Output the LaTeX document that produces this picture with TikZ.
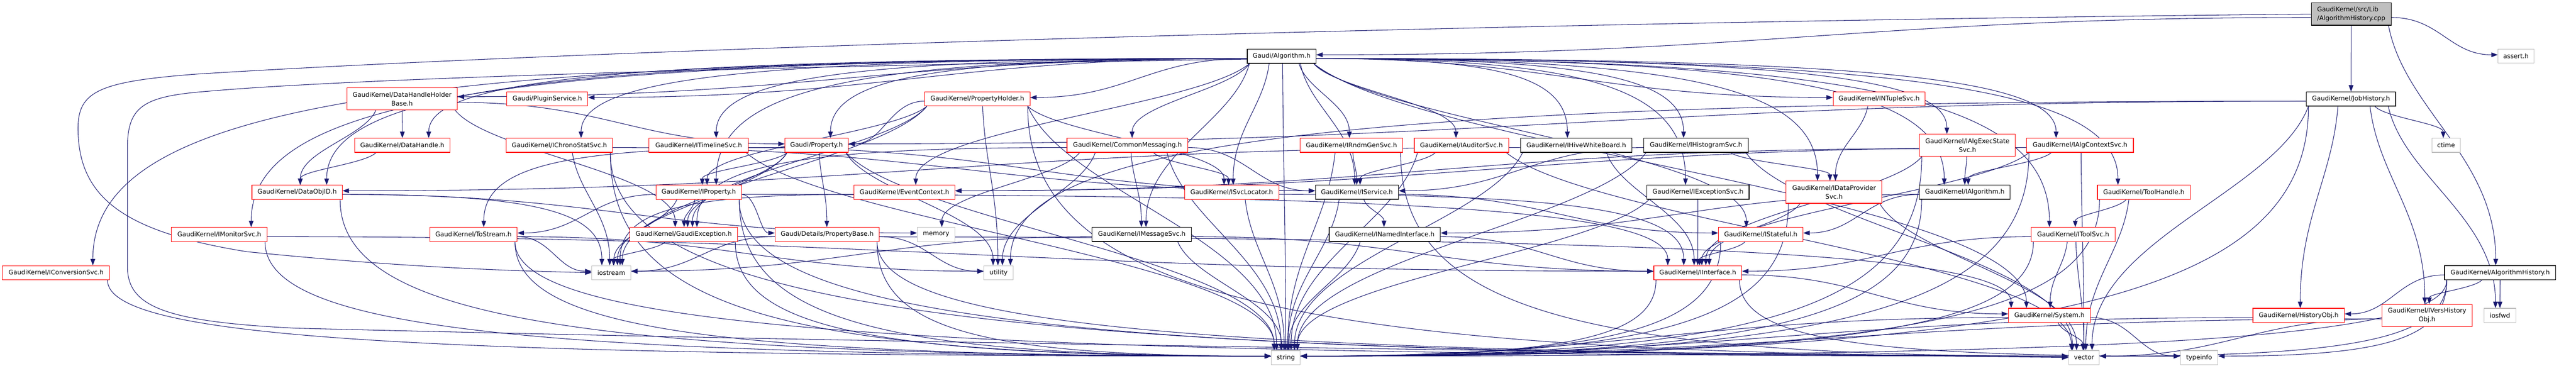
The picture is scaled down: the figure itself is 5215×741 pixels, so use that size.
\documentclass[tikz,border=0pt]{standalone}
\usepackage{fontspec}
\setmainfont{DejaVu Sans}
\usetikzlibrary{arrows.meta,calc}
\definecolor{edgec}{RGB}{25,25,112}
\definecolor{grayb}{RGB}{191,191,191}
\pgfdeclarelayer{back}\pgfdeclarelayer{edges}
\pgfsetlayers{back,edges,main}
\tikzset{
 box/.style={draw, rectangle, inner sep=0pt, minimum height=28.5pt, fill=white, line width=1.1pt, font=\fontsize{12.8}{17.5}\selectfont, text=black},
 redbox/.style={box, draw=red},
 blkbox/.style={box, draw=black, line width=1.3pt},
 grybox/.style={box, draw=grayb},
 srcbox/.style={box, draw=black, fill=grayb, line width=1.3pt, minimum height=45pt, align=left},
 two/.style={minimum height=45pt, align=center},
 dep/.style={draw=edgec, line width=1.1pt, -{Triangle[length=13pt,width=9.5pt]}},
}
\newcommand\N[6]{%
 \pgfmathsetmacro\nw{#3-#2}\pgfmathsetmacro\nx{(#2+#3)/2}%
 \node[#5, minimum width=\nw pt] (#1) at (\nx,#4) {#6};}
\newcommand\E[2]{%
\draw[dep] let \p1=(#1.center), \p2=(#2.center), \p3=(#1.north east), \p4=(#2.north east),
 \n{dx}={\x2-\x1}, \n{dy}={\y1-\y2}, \n{wa}={\x3-\x1}, \n{ha}={\y3-\y1},
 \n{wb}={\x4-\x2}, \n{hb}={\y4-\y2}, \n{sg}={\x2>\x1 ? 1 : -1},
 \n{sh}={abs(\n{dx})>3*\n{dy} ? 1 : 0},
 \n{ds}={(\n{sh}>0.5) && ((\n{dy}<120) || (\y2>-700)) ? 1 : 0},
 \n{as}={(\n{sh}>0.5) && ((\n{dy}<120) || (\y2<-700)) ? 1 : 0},
 \n{xs}={\n{ds}>0.5 ? \x1+(\n{sg})*(\n{wa}) : \x1+max(5-\n{wa},min(\n{wa}-5,0.25*\n{dx}))},
 \n{ys}={\n{ds}>0.5 ? \y1-0.3*\n{ha} : \y1-\n{ha}},
 \n{xt}={\n{as}>0.5 ? \x2-(\n{sg})*(\n{wb}) : \x2+max(6-\n{wb},min(\n{wb}-6,-0.03*\n{dx}))},
 \n{yt}={\n{as}>0.5 ? \y2+0.2*\n{hb} : \y2+\n{hb}},
 \n{ka}={\n{ds}>0.5 ? (\n{as}>0.5 ? 0.45 : 0.75) : (\n{as}>0.5 ? 0 : 0.15)},
 \n{kb}={\n{ds}>0.5 ? 0 : (\n{as}>0.5 ? 0.75 : 0.35)},
 \n{kc}={\n{as}>0.5 ? (\n{ds}>0.5 ? 0.45 : 0.75) : 0},
 \n{kd}={\n{as}>0.5 ? 0 : (\n{ds}>0.5 ? 0.75 : 0.45)},
 \n{ax}={\n{xs}+\n{ka}*(\n{xt}-\n{xs})},
 \n{ay}={\n{ys}-\n{kb}*(\n{ys}-\n{yt})},
 \n{bx}={\n{xt}-\n{kc}*(\n{xt}-\n{xs})},
 \n{by}={\n{yt}+\n{kd}*(\n{ys}-\n{yt})}
 in (\n{xs},\n{ys}) .. controls (\n{ax},\n{ay}) and (\n{bx},\n{by}) .. (\n{xt},\n{yt});}
\begin{document}
\begin{tikzpicture}[x=1pt,y=-1pt]
\begin{pgfonlayer}{back}
\fill[white] (0,0) rectangle (5215,741);
\end{pgfonlayer}
\useasboundingbox (0,0) rectangle (5215,741);
% nodes
\N{cpp}{4679}{4841}{28.5}{srcbox}{GaudiKernel/src/Lib\\/AlgorithmHistory.cpp}
\N{alg}{2525}{2664}{114}{blkbox}{Gaudi/Algorithm.h}
\N{assert}{5057}{5130}{114}{grybox}{assert.h}
\N{dhhb}{702}{926}{200.5}{redbox,two}{GaudiKernel/DataHandleHolder\\Base.h}
\N{plugin}{1026}{1190}{200.5}{redbox}{Gaudi/PluginService.h}
\N{propholder}{1872}{2085}{200.5}{redbox}{GaudiKernel/PropertyHolder.h}
\N{ntuple}{3711}{3897}{200.5}{redbox}{GaudiKernel/INTupleSvc.h}
\N{jobhist}{4669}{4850}{200.5}{blkbox}{GaudiKernel/JobHistory.h}
\N{datahandle}{718}{911}{294.5}{redbox}{GaudiKernel/DataHandle.h}
\N{chrono}{1025}{1240}{294.5}{redbox}{GaudiKernel/IChronoStatSvc.h}
\N{timeline}{1314}{1515}{294.5}{redbox}{GaudiKernel/ITimelineSvc.h}
\N{property}{1589}{1717}{294.5}{redbox}{Gaudi/Property.h}
\N{commsg}{2160}{2405}{294.5}{redbox}{GaudiKernel/CommonMessaging.h}
\N{rndm}{2632}{2840}{294.5}{redbox}{GaudiKernel/IRndmGenSvc.h}
\N{auditor}{2863}{3054}{294.5}{redbox}{GaudiKernel/IAuditorSvc.h}
\N{hive}{3078}{3304}{294.5}{blkbox}{GaudiKernel/IHiveWhiteBoard.h}
\N{histo}{3328}{3539}{294.5}{blkbox}{GaudiKernel/IHistogramSvc.h}
\N{execstate}{3886}{4080}{294.5}{redbox,two}{GaudiKernel/IAlgExecState\\Svc.h}
\N{algctx}{4103}{4319}{294.5}{redbox}{GaudiKernel/IAlgContextSvc.h}
\N{ctime}{4923}{4981}{294.5}{grybox}{ctime}
\N{dataobjid}{510}{693}{389.5}{redbox}{GaudiKernel/DataObjID.h}
\N{iproperty}{1328}{1501}{389.5}{redbox}{GaudiKernel/IProperty.h}
\N{evctx}{1729}{1933}{389.5}{redbox}{GaudiKernel/EventContext.h}
\N{svcloc}{2398}{2589}{389.5}{redbox}{GaudiKernel/ISvcLocator.h}
\N{iservice}{2663}{2831}{389.5}{blkbox}{GaudiKernel/IService.h}
\N{excsvc}{3334}{3541}{389.5}{blkbox}{GaudiKernel/IExceptionSvc.h}
\N{dataprov}{3616}{3810}{389.5}{redbox,two}{GaudiKernel/IDataProvider\\Svc.h}
\N{ialg}{3886}{4069}{389.5}{blkbox}{GaudiKernel/IAlgorithm.h}
\N{toolhandle}{4246}{4434}{389.5}{redbox}{GaudiKernel/ToolHandle.h}
\N{monitor}{347}{541}{475}{redbox}{GaudiKernel/IMonitorSvc.h}
\N{tostream}{870}{1047}{475}{redbox}{GaudiKernel/ToStream.h}
\N{gexc}{1275}{1493}{475}{redbox}{GaudiKernel/GaudiException.h}
\N{propbase}{1569}{1780}{475}{redbox}{Gaudi/Details/PropertyBase.h}
\N{memory}{1857}{1933}{475}{grybox}{memory}
\N{msgsvc}{2211}{2412}{475}{blkbox}{GaudiKernel/IMessageSvc.h}
\N{named}{2691}{2916}{475}{blkbox}{GaudiKernel/INamedInterface.h}
\N{stateful}{3479}{3650}{475}{redbox}{GaudiKernel/IStateful.h}
\N{toolsvc}{4112}{4282}{475}{redbox}{GaudiKernel/IToolSvc.h}
\N{convsvc}{5}{222}{552.5}{redbox}{GaudiKernel/IConversionSvc.h}
\N{iostream}{1198}{1277}{552.5}{grybox}{iostream}
\N{utility}{1992}{2051}{552.5}{grybox}{utility}
\N{iinterface}{3348}{3526}{552.5}{redbox}{GaudiKernel/IInterface.h}
\N{alghist}{4949}{5174}{552.5}{blkbox}{GaudiKernel/AlgorithmHistory.h}
\N{system}{4066}{4232}{639}{redbox}{GaudiKernel/System.h}
\N{histobj}{4561}{4746}{639}{redbox}{GaudiKernel/HistoryObj.h}
\N{vershist}{4822}{5005}{639}{redbox,two}{GaudiKernel/IVersHistory\\Obj.h}
\N{iosfwd}{5029}{5093}{639}{grybox}{iosfwd}
\N{string}{2574}{2632}{724.5}{grybox}{string}
\N{vector}{4188}{4250}{724.5}{grybox}{vector}
\N{typeinfo}{4414}{4490}{724.5}{grybox}{typeinfo}
% edges
\begin{pgfonlayer}{edges}
\E{cpp}{alg}\E{cpp}{jobhist}\E{cpp}{assert}\E{cpp}{alghist}
\draw[dep] (cpp.west) .. controls (3000,45) and (1200,100) .. (400,150) .. controls (200,165) and (158,185) .. (158,260) .. controls (158,400) and (250,470) .. (500,510) .. controls (800,540) and (1000,548) .. (iostream.west);
\draw[dep] ([yshift=-6pt]alg.west) .. controls (1500,135) and (700,160) .. (420,185) .. controls (290,195) and (258,215) .. (258,300) -- (258,540) .. controls (258,620) and (330,652) .. (600,665) .. controls (2000,700) and (3500,716) .. (vector.west);
\foreach \t in {dhhb,plugin,propholder,ntuple,datahandle,chrono,timeline,property,commsg,rndm,auditor,hive,histo,execstate,algctx,dataobjid,evctx,svcloc,iservice,excsvc,dataprov,ialg,toolhandle,monitor,msgsvc,stateful,toolsvc,convsvc,system,string,iproperty}{\E{alg}{\t}}
\foreach \t in {datahandle,dataobjid,property,gexc}{\E{dhhb}{\t}}
\E{datahandle}{dataobjid}
\foreach \t in {string,iostream,memory}{\E{dataobjid}{\t}}
\foreach \t in {iinterface,string}{\E{monitor}{\t}}
\E{convsvc}{string}
\foreach \t in {iservice,iostream,string,vector}{\E{chrono}{\t}}
\foreach \t in {iservice,string}{\E{timeline}{\t}}
\foreach \t in {iproperty,propbase,tostream,gexc,string,utility,iostream}{\E{property}{\t}}
\foreach \t in {property,iproperty,gexc,svcloc,iostream,string,utility,vector}{\E{propholder}{\t}}
\foreach \t in {tostream,gexc,propbase,iinterface,iostream,string,vector}{\E{iproperty}{\t}}
\foreach \t in {iostream,utility,string,typeinfo}{\E{propbase}{\t}}
\foreach \t in {iostream,string,vector,utility}{\E{tostream}{\t}}
\foreach \t in {iostream,string,system}{\E{gexc}{\t}}
\foreach \t in {msgsvc,svcloc,iservice,gexc,memory,utility,string}{\E{commsg}{\t}}
\foreach \t in {iservice,string,vector}{\E{rndm}{\t}}
\foreach \t in {iservice,string,vector}{\E{auditor}{\t}}
\foreach \t in {iinterface,dataobjid,string}{\E{hive}{\t}}
\foreach \t in {iservice,dataprov,string,vector}{\E{histo}{\t}}
\foreach \t in {named,stateful,string}{\E{iservice}{\t}}
\foreach \t in {iinterface,string}{\E{named}{\t}}
\foreach \t in {iinterface,string}{\E{excsvc}{\t}}
\E{ntuple}{dataprov}
\foreach \t in {iinterface,string,vector}{\E{dataprov}{\t}}
\foreach \t in {ialg,evctx,iinterface,string}{\E{execstate}{\t}}
\foreach \t in {ialg,evctx,iinterface,string,vector}{\E{algctx}{\t}}
\foreach \t in {named,stateful,string}{\E{ialg}{\t}}
\foreach \t in {toolsvc,string,vector}{\E{toolhandle}{\t}}
\foreach \t in {system,vector,iinterface,string}{\E{toolsvc}{\t}}
\foreach \t in {iinterface,string}{\E{stateful}{\t}}
\foreach \t in {system,typeinfo,string}{\E{iinterface}{\t}}
\foreach \t in {string,vector,typeinfo}{\E{system}{\t}}
\foreach \t in {iinterface,string,iostream}{\E{msgsvc}{\t}}
\E{evctx}{iostream}
\foreach \t in {iinterface,string}{\E{svcloc}{\t}}
\foreach \t in {histobj,vershist,property,ctime,iosfwd,string,utility,vector}{\E{jobhist}{\t}}
\foreach \t in {histobj,vershist,iosfwd,string,typeinfo,vector}{\E{alghist}{\t}}
\E{histobj}{string}
\foreach \t in {string,vector}{\E{vershist}{\t}}
\end{pgfonlayer}
\end{tikzpicture}
\end{document}
